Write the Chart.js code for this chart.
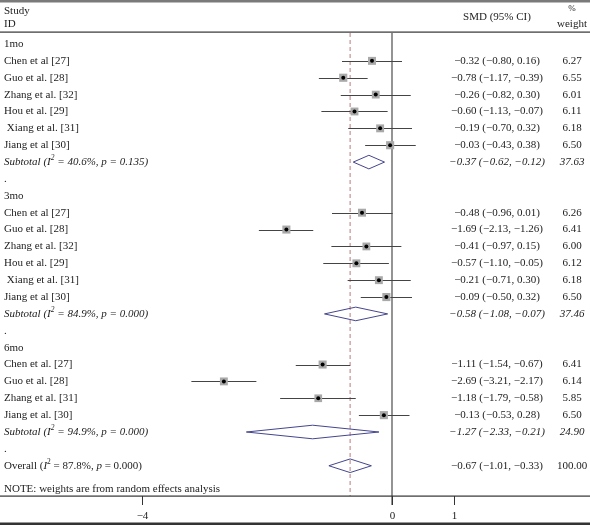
<!DOCTYPE html>
<html>
<head>
<meta charset="utf-8">
<script src="https://cdn.jsdelivr.net/npm/chart.js@4.4.1/dist/chart.umd.min.js"></script>
<style>
  html, body { margin: 0; padding: 0; background: #fff; }
  #wrap { width: 590px; height: 525px; position: relative; }
</style>
</head>
<body>
<div id="wrap"><canvas id="forest"></canvas></div>
<script>
// datos por grupo
const groupNames = ['1mo', '3mo', '6mo'];

const studies1mo = ['Chen et al [27]', 'Guo et al. [28]', 'Zhang et al. [32]', 'Hou et al. [29]', ' Xiang et al. [31]', 'Jiang et al [30]'];
const smd1mo = [-0.32, -0.78, -0.26, -0.60, -0.19, -0.03];
const lo1mo = [-0.80, -1.17, -0.82, -1.13, -0.70, -0.43];
const hi1mo = [0.16, -0.39, 0.30, -0.07, 0.32, 0.38];
const w1mo = [6.27, 6.55, 6.01, 6.11, 6.18, 6.50];

const studies3mo = ['Chen et al [27]', 'Guo et al. [28]', 'Zhang et al. [32]', 'Hou et al. [29]', ' Xiang et al. [31]', 'Jiang et al [30]'];
const smd3mo = [-0.48, -1.69, -0.41, -0.57, -0.21, -0.09];
const lo3mo = [-0.96, -2.13, -0.97, -1.10, -0.71, -0.50];
const hi3mo = [0.01, -1.26, 0.15, -0.05, 0.30, 0.32];
const w3mo = [6.26, 6.41, 6.00, 6.12, 6.18, 6.50];

const studies6mo = ['Chen et al. [27]', 'Guo et al. [28]', 'Zhang et al. [31]', 'Jiang et al. [30]'];
const smd6mo = [-1.11, -2.69, -1.18, -0.13];
const lo6mo = [-1.54, -3.21, -1.79, -0.53];
const hi6mo = [-0.67, -2.17, -0.58, 0.28];
const w6mo = [6.41, 6.14, 5.85, 6.50];

const subtotalSmd = [-0.37, -0.58, -1.27];
const subtotalLo = [-0.62, -1.08, -2.33];
const subtotalHi = [-0.12, -0.07, -0.21];
const subtotalW = [37.63, 37.46, 24.90];
const subtotalI2 = ['40.6%', '84.9%', '94.9%'];
const subtotalP = ['0.135', '0.000', '0.000'];

const overallSmd = -0.67;
const overallLo = -1.01;
const overallHi = -0.33;
const overallW = 100.00;
const overallI2 = '87.8%';
const overallP = '0.000';

const xTicks = [-4, 0, 1];

// layout
const W = 590, H = 525;
const ROW0 = 44, ROW_H = 16.87;
const X0 = 392, X_UNIT = 62.5;
const FONT = '"Liberation Serif", "DejaVu Serif", serif';
const LEFT_X = 4, SMD_X = 497, WT_X = 572;
const AXIS_Y = 496;

// armar filas
const groups = [
  { s: studies1mo, m: smd1mo, lo: lo1mo, hi: hi1mo, w: w1mo },
  { s: studies3mo, m: smd3mo, lo: lo3mo, hi: hi3mo, w: w3mo },
  { s: studies6mo, m: smd6mo, lo: lo6mo, hi: hi6mo, w: w6mo },
];
const rows = [];
groups.forEach((g, gi) => {
  rows.push({ type: 'head', label: groupNames[gi] });
  g.s.forEach((name, k) => rows.push({ type: 'study', label: name, m: g.m[k], lo: g.lo[k], hi: g.hi[k], w: g.w[k] }));
  rows.push({ type: 'sub', m: subtotalSmd[gi], lo: subtotalLo[gi], hi: subtotalHi[gi], w: subtotalW[gi], i2: subtotalI2[gi], p: subtotalP[gi] });
  rows.push({ type: 'dot' });
});
rows.push({ type: 'overall', m: overallSmd, lo: overallLo, hi: overallHi, w: overallW, i2: overallI2, p: overallP });

const studyPts = [];
rows.forEach((r, i) => { if (r.type === 'study') studyPts.push({ x: r.m, y: i, w: r.w }); });

const fmt = v => v.toFixed(2).replace('-', '\u2212');
const ciText = r => fmt(r.m) + ' (' + fmt(r.lo) + ', ' + fmt(r.hi) + ')';

function rich(ctx, segs, x, y, size) {
  let cx = x;
  segs.forEach(sg => {
    const sz = sg.sup ? size * 0.68 : size;
    ctx.font = (sg.it ? 'italic ' : '') + sz + 'px ' + FONT;
    ctx.fillText(sg.t, cx, sg.sup ? y - size * 0.38 : y);
    cx += ctx.measureText(sg.t).width;
  });
}

const forestPlugin = {
  id: 'forest',
  beforeDraw(chart) {
    const ctx = chart.ctx;
    ctx.save();
    ctx.fillStyle = '#fff';
    ctx.fillRect(0, 0, W, H);
    ctx.restore();
  },
  beforeDatasetsDraw(chart) {
    const ctx = chart.ctx;
    const xs = chart.scales.x, ys = chart.scales.y;
    ctx.save();
    // linea de cero
    ctx.strokeStyle = '#666';
    ctx.lineWidth = 1.4;
    ctx.beginPath();
    ctx.moveTo(Math.round(xs.getPixelForValue(0)), 33);
    ctx.lineTo(Math.round(xs.getPixelForValue(0)), AXIS_Y + 9);
    ctx.stroke();
    // linea del efecto global
    ctx.strokeStyle = '#c49292';
    ctx.lineWidth = 1.2;
    ctx.setLineDash([4, 3]);
    ctx.beginPath();
    ctx.moveTo(xs.getPixelForValue(overallSmd), 33);
    ctx.lineTo(xs.getPixelForValue(overallSmd), AXIS_Y);
    ctx.stroke();
    ctx.setLineDash([]);
    // intervalos de confianza
    ctx.strokeStyle = '#444';
    ctx.lineWidth = 1;
    rows.forEach((r, i) => {
      if (r.type !== 'study') return;
      const y = Math.round(ys.getPixelForValue(i)) + 0.5;
      ctx.beginPath();
      ctx.moveTo(xs.getPixelForValue(r.lo), y);
      ctx.lineTo(xs.getPixelForValue(r.hi), y);
      ctx.stroke();
    });
    ctx.restore();
  },
  afterDatasetsDraw(chart) {
    const ctx = chart.ctx;
    const xs = chart.scales.x, ys = chart.scales.y;
    ctx.save();
    // diamantes
    ctx.strokeStyle = '#45458f';
    ctx.lineWidth = 1;
    rows.forEach((r, i) => {
      if (r.type !== 'sub' && r.type !== 'overall') return;
      const y = ys.getPixelForValue(i);
      const h = 6.8;
      ctx.beginPath();
      ctx.moveTo(xs.getPixelForValue(r.lo), y);
      ctx.lineTo(xs.getPixelForValue(r.m), y - h);
      ctx.lineTo(xs.getPixelForValue(r.hi), y);
      ctx.lineTo(xs.getPixelForValue(r.m), y + h);
      ctx.closePath();
      ctx.stroke();
    });
    ctx.restore();
  },
  afterDraw(chart) {
    const ctx = chart.ctx;
    const xs = chart.scales.x, ys = chart.scales.y;
    ctx.save();
    // bordes
    ctx.fillStyle = '#7a7a7a';
    ctx.fillRect(0, 0, W, 2.5);
    ctx.fillStyle = '#333';
    ctx.fillRect(0, 31.5, W, 1.2);
    ctx.fillRect(0, AXIS_Y - 0.5, W, 1.2);
    ctx.fillRect(0, H - 2.5, W, 2.5);
    // eje x
    ctx.strokeStyle = '#333';
    ctx.lineWidth = 1;
    ctx.textAlign = 'center';
    ctx.textBaseline = 'middle';
    ctx.fillStyle = '#222';
    ctx.font = '11px ' + FONT;
    xTicks.forEach(t => {
      const x = Math.round(xs.getPixelForValue(t)) + 0.5;
      ctx.beginPath();
      ctx.moveTo(x, AXIS_Y);
      ctx.lineTo(x, AXIS_Y + 9);
      ctx.stroke();
      ctx.fillText(t < 0 ? '\u2212' + Math.abs(t) : String(t), x, AXIS_Y + 20);
    });
    // encabezados
    ctx.textAlign = 'left';
    ctx.fillText('Study', LEFT_X, 11);
    ctx.fillText('ID', LEFT_X, 24);
    ctx.textAlign = 'center';
    ctx.fillText('SMD (95% CI)', SMD_X, 17);
    ctx.font = '9px ' + FONT;
    ctx.fillText('%', WT_X, 9);
    ctx.font = '11px ' + FONT;
    ctx.fillText('weight', WT_X, 24);
    // filas
    rows.forEach((r, i) => {
      const y = ys.getPixelForValue(i);
      ctx.textAlign = 'left';
      if (r.type === 'head' || r.type === 'study') {
        ctx.font = '11px ' + FONT;
        ctx.fillText(r.label, LEFT_X, y);
      } else if (r.type === 'dot') {
        ctx.font = '11px ' + FONT;
        ctx.fillText('.', LEFT_X, y);
      } else if (r.type === 'sub') {
        rich(ctx, [
          { t: 'Subtotal (I', it: true }, { t: '2', it: true, sup: true },
          { t: ' = ' + r.i2 + ', p = ' + r.p + ')', it: true }
        ], LEFT_X, y, 11);
      } else if (r.type === 'overall') {
        rich(ctx, [
          { t: 'Overall (' }, { t: 'I', it: true }, { t: '2', sup: true },
          { t: ' = ' + r.i2 + ', ' }, { t: 'p', it: true }, { t: ' = ' + r.p + ')' }
        ], LEFT_X, y, 11);
      }
      if (r.m === undefined) return;
      ctx.textAlign = 'center';
      ctx.font = (r.type === 'sub' ? 'italic ' : '') + '11px ' + FONT;
      ctx.fillText(ciText(r), SMD_X, y);
      ctx.fillText(r.w.toFixed(2), WT_X, y);
    });
    ctx.textAlign = 'left';
    ctx.font = '11px ' + FONT;
    ctx.fillText('NOTE: weights are from random effects analysis', LEFT_X, 489);
    ctx.restore();
  }
};

new Chart(document.getElementById('forest'), {
  type: 'scatter',
  data: {
    datasets: [
      {
        label: 'SMD',
        data: studyPts,
        order: 0,
        pointStyle: 'circle',
        pointRadius: 2,
        backgroundColor: '#000',
        borderWidth: 0,
      },
      {
        label: 'peso',
        data: studyPts,
        order: 1,
        pointStyle: 'rect',
        pointRadius: ctx => 2.25 * Math.sqrt(ctx.raw.w),
        backgroundColor: '#a9a9a9',
        borderWidth: 0,
      },
    ],
  },
  options: {
    responsive: true,
    maintainAspectRatio: false,
    animation: false,
    layout: { padding: 0, autoPadding: false },
    plugins: { legend: { display: false }, tooltip: { enabled: false } },
    scales: {
      x: { display: false, min: -X0 / X_UNIT, max: (W - X0) / X_UNIT },
      y: { display: false, reverse: true, min: -ROW0 / ROW_H, max: (H - ROW0) / ROW_H },
    },
  },
  plugins: [forestPlugin],
});
</script>
</body>
</html>
